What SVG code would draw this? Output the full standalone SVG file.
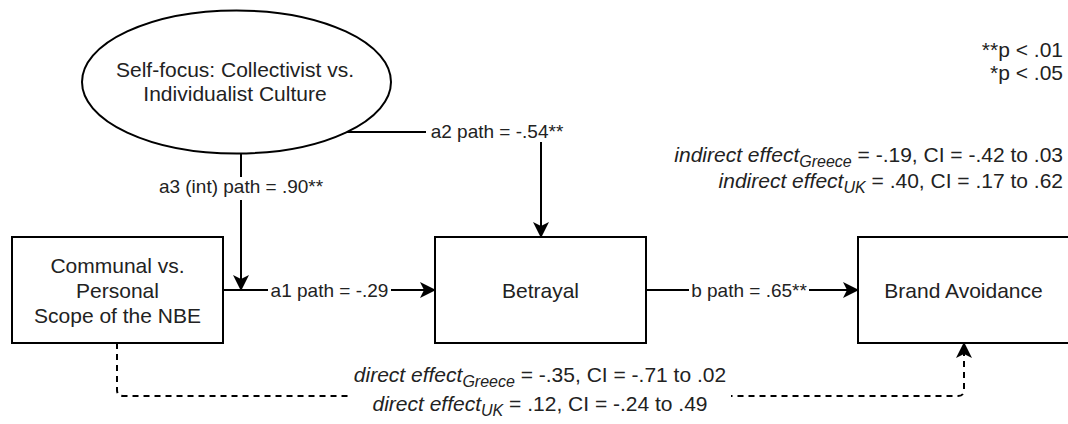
<svg xmlns="http://www.w3.org/2000/svg" width="1068" height="424" viewBox="0 0 1068 424">
<style>
.shape{fill:#fff;stroke:#000;stroke-width:2}
.edge{fill:none;stroke:#000;stroke-width:2}
.dash{stroke-dasharray:6 5}
.t{font-family:"Liberation Sans",Arial,sans-serif;fill:#222}
.n{font-size:21px;text-anchor:middle}
.l{font-size:19px;text-anchor:middle}
.r{font-size:21px;text-anchor:end}
.c{font-size:21px;text-anchor:middle}
.i{font-style:italic}
.sub{font-size:16px}
.bg{fill:#fff}
</style>
<defs>
<marker id="arr" markerUnits="userSpaceOnUse" viewBox="0 0 16 16" markerWidth="16" markerHeight="16" refX="15" refY="8" orient="auto">
<path d="M0,0 L16,8 L0,16 L4,8 Z" fill="#000"/>
</marker>
</defs>
<rect width="1068" height="424" fill="#fff"/>
<g id="connectors">
<path class="edge" d="M347,132 H541 V237" marker-end="url(#arr)"/>
<path class="edge" d="M241,153 V290" marker-end="url(#arr)"/>
<path class="edge" d="M223,290 H435" marker-end="url(#arr)"/>
<path class="edge" d="M646,290 H858" marker-end="url(#arr)"/>
<path class="edge dash" d="M117,343 V390 Q117,396 123,396 H958 Q964,396 964,390 V343" marker-end="url(#arr)"/>
<rect class="bg" x="426" y="121" width="142" height="21"/>
<text class="t l" x="497" y="138">a2 path = -.54**</text>
<rect class="bg" x="151" y="177" width="180" height="23"/>
<text class="t l" x="241" y="193">a3 (int) path = .90**</text>
<rect class="bg" x="268" y="280" width="123" height="21"/>
<text class="t l" x="329.5" y="296.5">a1 path = -.29</text>
<rect class="bg" x="689" y="280" width="120" height="21"/>
<text class="t l" x="749" y="296.5">b path = .65**</text>
<rect class="bg" x="349" y="364" width="382" height="56"/>
<text class="t c" x="540" y="382"><tspan class="i">direct effect</tspan><tspan class="i sub" dy="5">Greece</tspan><tspan dy="-5"> = -.35, CI = -.71 to .02</tspan></text>
<text class="t c" x="540" y="411"><tspan class="i">direct effect</tspan><tspan class="i sub" dy="5">UK</tspan><tspan dy="-5"> = .12, CI = -.24 to .49</tspan></text>
</g>
<g id="node-selffocus">
<ellipse class="shape" cx="236.5" cy="82" rx="154.5" ry="71.5"/>
<text class="t n" x="235" y="77">Self-focus: Collectivist vs.</text>
<text class="t n" x="235" y="101">Individualist Culture</text>
</g>
<g id="node-communal">
<rect class="shape" x="12" y="237" width="211" height="106"/>
<text class="t n" x="117.5" y="273">Communal vs.</text>
<text class="t n" x="117.5" y="298">Personal</text>
<text class="t n" x="117.5" y="323">Scope of the NBE</text>
</g>
<g id="node-betrayal">
<rect class="shape" x="435" y="237" width="211" height="106"/>
<text class="t n" x="540.5" y="298">Betrayal</text>
</g>
<g id="node-brand">
<rect class="shape" x="858" y="237" width="211" height="106"/>
<text class="t n" x="963.5" y="298">Brand Avoidance</text>
</g>
<g id="notes">
<text class="t r" x="1063" y="57">**p &lt; .01</text>
<text class="t r" x="1063" y="80">*p &lt; .05</text>
<text class="t r" x="1063" y="162"><tspan class="i">indirect effect</tspan><tspan class="i sub" dy="5">Greece</tspan><tspan dy="-5"> = -.19, CI = -.42 to .03</tspan></text>
<text class="t r" x="1063" y="188"><tspan class="i">indirect effect</tspan><tspan class="i sub" dy="5">UK</tspan><tspan dy="-5"> = .40, CI = .17 to .62</tspan></text>
</g>
</svg>
